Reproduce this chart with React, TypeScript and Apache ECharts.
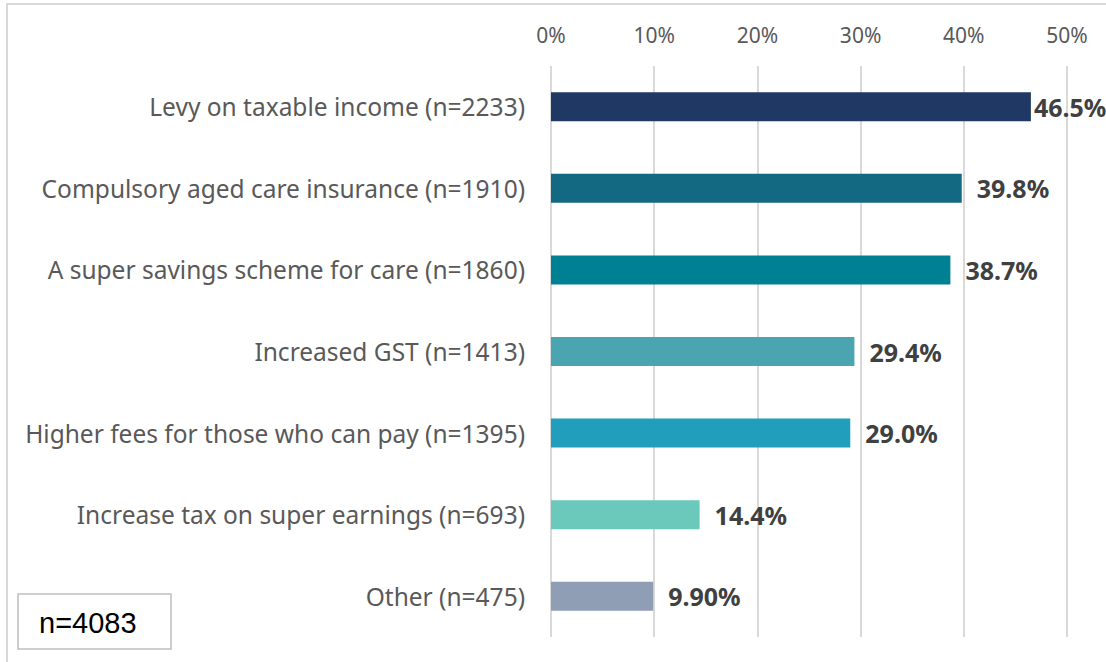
import React, { useEffect, useRef } from "react";
import * as echarts from "echarts";

const categories = [
  "Levy on taxable income (n=2233)",
  "Compulsory aged care insurance (n=1910)",
  "A super savings scheme for care (n=1860)",
  "Increased GST (n=1413)",
  "Higher fees for those who can pay (n=1395)",
  "Increase tax on super earnings (n=693)",
  "Other (n=475)",
];
const values = [46.5, 39.8, 38.7, 29.4, 29.0, 14.4, 9.9];
const valueLabels = ["46.5%", "39.8%", "38.7%", "29.4%", "29.0%", "14.4%", "9.90%"];
const barColors = ["#203864", "#136882", "#008093", "#4ba5b0", "#219ebc", "#6bc9bc", "#8f9db5"];
const tickValues = [0, 10, 20, 30, 40, 50];
const sampleNote = "n=4083";

const FONT = "Noto Sans";

export default function App() {
  const ref = useRef<HTMLDivElement>(null);
  useEffect(() => {
    document.body.style.margin = "0";
    const chart = echarts.init(ref.current!, null, { renderer: "svg" });
    chart.setOption({
      animation: false,
      backgroundColor: "#ffffff",
      textStyle: { fontFamily: FONT },
      grid: { left: 551, top: 66, width: 516, height: 571, containLabel: false },
      xAxis: {
        type: "value",
        position: "top",
        min: tickValues[0],
        max: tickValues[tickValues.length - 1],
        interval: 10,
        axisLine: { show: false },
        axisTick: { show: false },
        axisLabel: { formatter: "{value}%", color: "#595959", fontSize: 21, margin: 21, fontFamily: FONT },
        splitLine: { show: true, lineStyle: { color: "#d9d9d9", width: 2 } },
      },
      yAxis: {
        type: "category",
        inverse: true,
        data: categories,
        axisLine: { show: false },
        axisTick: { show: false },
        axisLabel: { color: "#595959", fontSize: 24.5, margin: 26, fontFamily: FONT },
      },
      series: [
        {
          type: "bar",
          barWidth: 29,
          data: values.map((v, i) => ({
            value: v,
            itemStyle: { color: barColors[i] },
            label: { distance: i === 0 ? 3 : 15 },
          })),
          label: {
            show: true,
            position: "right",
            color: "#404040",
            fontWeight: "bold",
            fontSize: 25,
            fontFamily: FONT,
            formatter: (p: any) => valueLabels[p.dataIndex],
          },
        },
      ],
      graphic: [
        {
          type: "rect",
          shape: { x: 7, y: 4, width: 1110, height: 700 },
          style: { fill: "none", stroke: "#d9d9d9", lineWidth: 2 },
          silent: true,
        },
        {
          type: "rect",
          shape: { x: 18, y: 594, width: 153, height: 55 },
          style: { fill: "#ffffff", stroke: "#bfbfbf", lineWidth: 1.5 },
        },
        {
          type: "text",
          x: 39,
          y: 623,
          style: { text: sampleNote, fill: "#000000", font: "29px 'Liberation Sans'", verticalAlign: "middle" },
        },
      ],
    });
    return () => chart.dispose();
  }, []);
  return <div ref={ref} style={{ width: 1106, height: 662 }} />;
}
